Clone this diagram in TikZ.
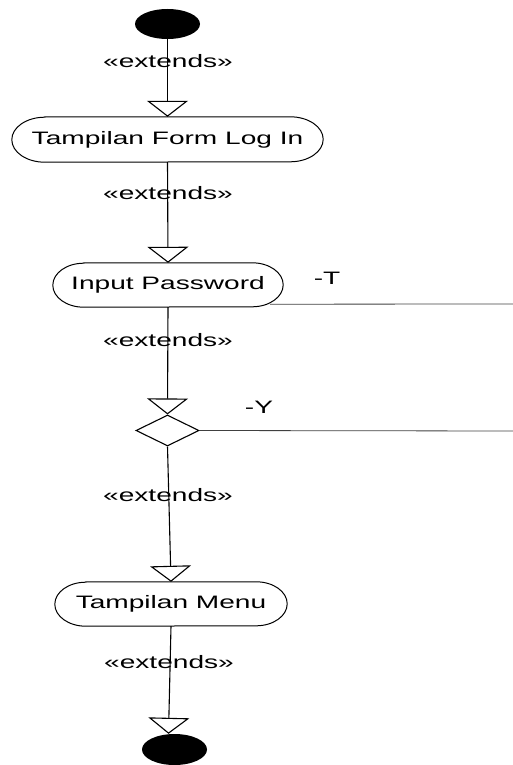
\documentclass[tikz,border=0pt]{standalone}
\usepackage{fontspec}
\setmainfont{Liberation Sans}
\usetikzlibrary{arrows.meta,shapes.geometric}

% horizontally widened label text
\newcommand\widetxt[1]{\scalebox{1.56}[1]{#1}}

% activity outline: straight top and bottom, elliptic ends
% #1 node name, #2 horizontal radius, #3 vertical radius
\newcommand\actoutline[3]{%
  \draw[line width=1pt] ([xshift=#2]#1.north west) -- ([xshift=-#2]#1.north east)
    arc[start angle=90,end angle=-90,x radius=#2,y radius=#3]
    -- ([xshift=#2]#1.south west)
    arc[start angle=270,end angle=90,x radius=#2,y radius=#3] -- cycle;}

\begin{document}
\begin{tikzpicture}[x=1pt,y=-1pt,
  flow/.style={line width=1.1pt,-{Triangle[open,width=41pt,length=16pt,line width=1.1pt]}},
  txt/.style={font=\fontsize{18}{21}\selectfont,inner sep=0pt},
  act/.style={rectangle,inner sep=0pt,txt},
  term/.style={ellipse,fill=black,inner sep=0pt,minimum width=65pt,minimum height=30pt},
  side/.style={line width=0.8pt,black!75}]
\useasboundingbox (0,0) rectangle (513,765);

% nodes
\node[term] (start) at (167.5,24) {};
\node[act,minimum width=311pt,minimum height=45pt] (n1) at (167.5,139.5) {\widetxt{Tampilan Form Log In}};
\node[act,minimum width=230pt,minimum height=44pt] (n2) at (168,285) {\widetxt{Input Password}};
\node[diamond,draw,line width=1.1pt,minimum width=63pt,minimum height=31pt,inner sep=0pt] (dec) at (167.5,430.5) {};
\node[act,minimum width=232pt,minimum height=44pt] (n3) at (171,604) {\widetxt{Tampilan Menu}};
\node[term,minimum height=31pt] (fin) at (174.5,749.5) {};

\actoutline{n1}{33pt}{22.5pt}
\actoutline{n2}{31pt}{22pt}
\actoutline{n3}{31pt}{22pt}

% flow connectors
\draw[flow] (start.south) -- (n1.north);
\draw[flow] (n1.south) -- (n2.north);
\draw[flow] (n2.south) -- (dec.north);
\draw[flow] (dec.south) -- (n3.north);
\draw[flow] (n3.south) -- ([xshift=-6pt]fin.north);

% stereotype labels
\node[txt] (e1) at (168,61) {\widetxt{«extends»}};
\node[txt] (e2) at (168,193) {\widetxt{«extends»}};
\node[txt] (e3) at (168,340) {\widetxt{«extends»}};
\node[txt] (e4) at (168,495) {\widetxt{«extends»}};
\node[txt] (e5) at (169,662) {\widetxt{«extends»}};

% branch lines leaving to the right
\coordinate (tEnd) at (513,304);
\coordinate (yEnd) at (513,431);
\draw[side] ([shift={(-13pt,3pt)}]n2.south east) -- (tEnd);
\draw[side] (dec.east) -- (yEnd);
\node[txt] (tl) at (327,278) {\widetxt{-T}};
\node[txt] (yl) at (259,407) {\widetxt{-Y}};
\end{tikzpicture}
\end{document}
